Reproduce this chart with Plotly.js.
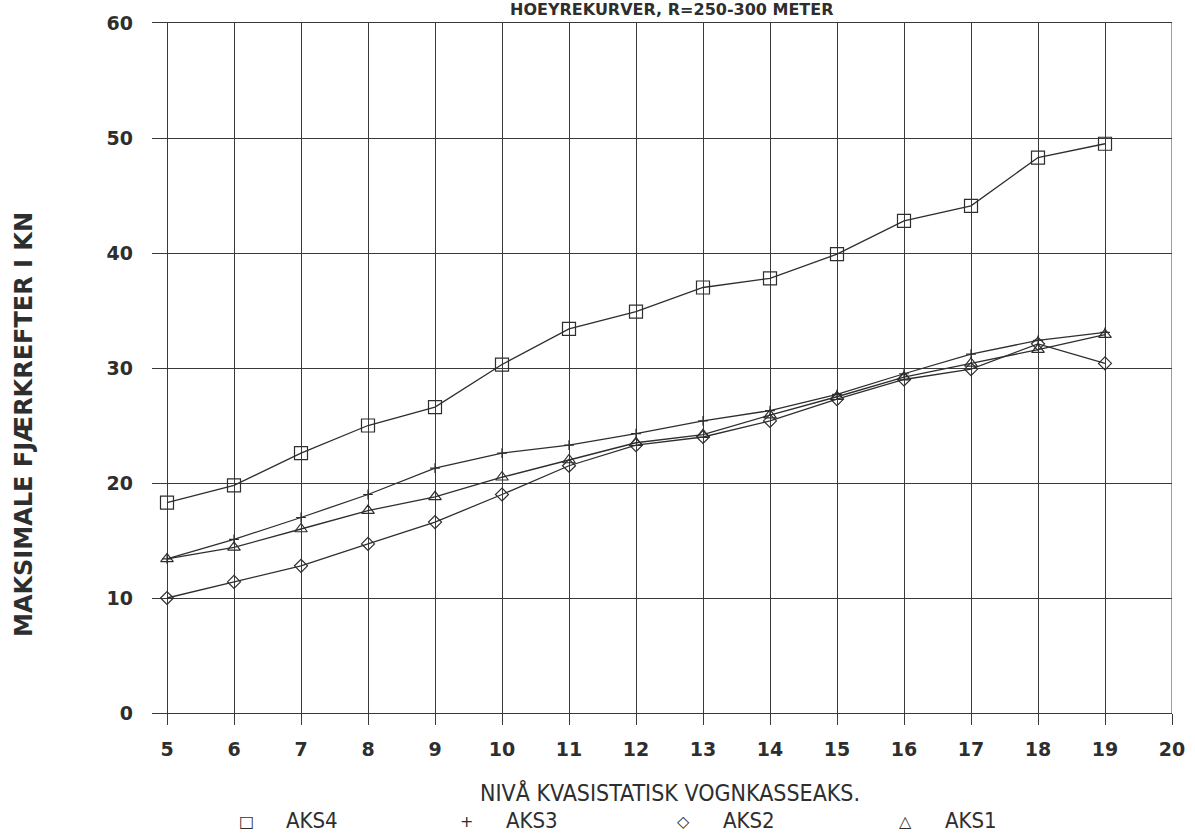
<!DOCTYPE html>
<html>
<head>
<meta charset="utf-8">
<script src="https://cdn.plot.ly/plotly-3.0.1.min.js"></script>
<style>
html,body{margin:0;padding:0;background:#fff;}
#chart{width:1195px;height:836px;}
</style>
</head>
<body>
<div id="chart"></div>
<script>
// ---- data ----
const levels = [5,6,7,8,9,10,11,12,13,14,15,16,17,18,19];
const aks4 = [18.3,19.8,22.6,25.0,26.6,30.3,33.4,34.9,37.0,37.8,39.9,42.8,44.1,48.3,49.5];
const aks3 = [13.4,15.1,17.0,19.0,21.3,22.6,23.3,24.3,25.4,26.3,27.7,29.5,31.2,32.4,33.1];
const aks2 = [10.0,11.4,12.8,14.7,16.6,19.0,21.5,23.3,24.0,25.4,27.3,29.0,29.9,32.1,30.4];
const aks1 = [13.4,14.4,16.0,17.6,18.8,20.5,22.0,23.5,24.2,25.9,27.5,29.2,30.4,31.6,32.9];
const seriesNames = ['AKS4','AKS3','AKS2','AKS1'];
const legendGlyphs = ['\u25A1','+','\u25C7','\u25B3'];
const xTicks = [5,6,7,8,9,10,11,12,13,14,15,16,17,18,19,20];
const yTicks = [0,10,20,30,40,50,60];
const chartTitle = 'HOEYREKURVER, R=250-300 METER';
const xTitle = 'NIVÅ KVASISTATISK VOGNKASSEAKS.';
const yTitle = 'MAKSIMALE FJÆRKREFTER I KN';

// ---- styling ----
const ink = '#2e2e2e';
const grid = '#3a3a3a';
const W = 1195, H = 836;
const M = {l:152, r:23, t:23, b:123};
const plotH = H - M.t - M.b;
const plotW = W - M.l - M.r;
const py = p => (H - M.b - p) / plotH;   // pixel y -> paper y
const px = p => (p - M.l) / plotW;       // pixel x -> paper x

const markerDefs = [
  {symbol:'square-open', size:13},
  {symbol:'cross-thin-open', size:7},
  {symbol:'diamond-open', size:10},
  {symbol:'triangle-up-open', size:11}
];
const values = [aks4, aks3, aks2, aks1];

const traces = values.map((v,i) => ({
  x: levels, y: v, name: seriesNames[i], type:'scatter', mode:'lines+markers',
  line:{color:ink, width:1.3},
  marker:{symbol:markerDefs[i].symbol, size:markerDefs[i].size, color:ink, line:{color:ink, width:1.2}},
  showlegend:false
}));

const wide = '"DejaVu Sans", Verdana, sans-serif';
const narrow = '"Liberation Sans Narrow", "Arial Narrow", "DejaVu Sans Condensed", sans-serif';
const annotations = [
  {text:'<b>'+chartTitle+'</b>', xref:'paper', yref:'paper', x:px(672), y:py(9), xanchor:'center', yanchor:'middle',
   showarrow:false, font:{family:wide, size:16, color:ink}},
  {text:xTitle, xref:'paper', yref:'paper', x:px(670), y:py(792), xanchor:'center', yanchor:'middle',
   showarrow:false, font:{family:narrow, size:23, color:ink}},
  {text:'<b>'+yTitle+'</b>', xref:'paper', yref:'paper', x:px(24), y:py(425), xanchor:'center', yanchor:'middle', textangle:-90,
   showarrow:false, font:{family:wide, size:24, color:ink}}
];
const legendX = [246, 466, 683, 905];
seriesNames.forEach((n,i) => {
  annotations.push({text:legendGlyphs[i], xref:'paper', yref:'paper', x:px(legendX[i]), y:py(821), xanchor:'center', yanchor:'middle',
    showarrow:false, font:{family:'DejaVu Sans, sans-serif', size:16, color:ink}});
  annotations.push({text:n, xref:'paper', yref:'paper', x:px(legendX[i]+38), y:py(820), xanchor:'left', yanchor:'middle',
    showarrow:false, font:{family:narrow, size:22, color:ink}});
});

const layout = {
  width:W, height:H,
  margin:M,
  paper_bgcolor:'#fff', plot_bgcolor:'#fff',
  showlegend:false,
  xaxis:{
    range:[5-15/67,20], tickvals:xTicks, ticktext:xTicks.map(String),
    showgrid:true, gridcolor:grid, gridwidth:1,
    zeroline:false, showline:true, linecolor:grid, linewidth:1, mirror:true,
    ticks:'outside', ticklen:11, tickwidth:1, tickcolor:grid, ticklabelstandoff:8,
    tickfont:{family:wide, size:19, color:ink, weight:'bold'}
  },
  yaxis:{
    range:[0,60], tickvals:yTicks, ticktext:yTicks.map(String),
    showgrid:true, gridcolor:grid, gridwidth:1,
    zeroline:false, showline:false, ticks:'', ticklabelstandoff:18,
    tickfont:{family:wide, size:19, color:ink, weight:'bold'}
  },
  annotations:annotations,
  shapes:[{type:'line', xref:'x', yref:'paper', x0:20, x1:20, y0:0, y1:1, line:{color:grid, width:1}}]
};

Plotly.newPlot('chart', traces, layout, {displayModeBar:false, staticPlot:true});
</script>
</body>
</html>
